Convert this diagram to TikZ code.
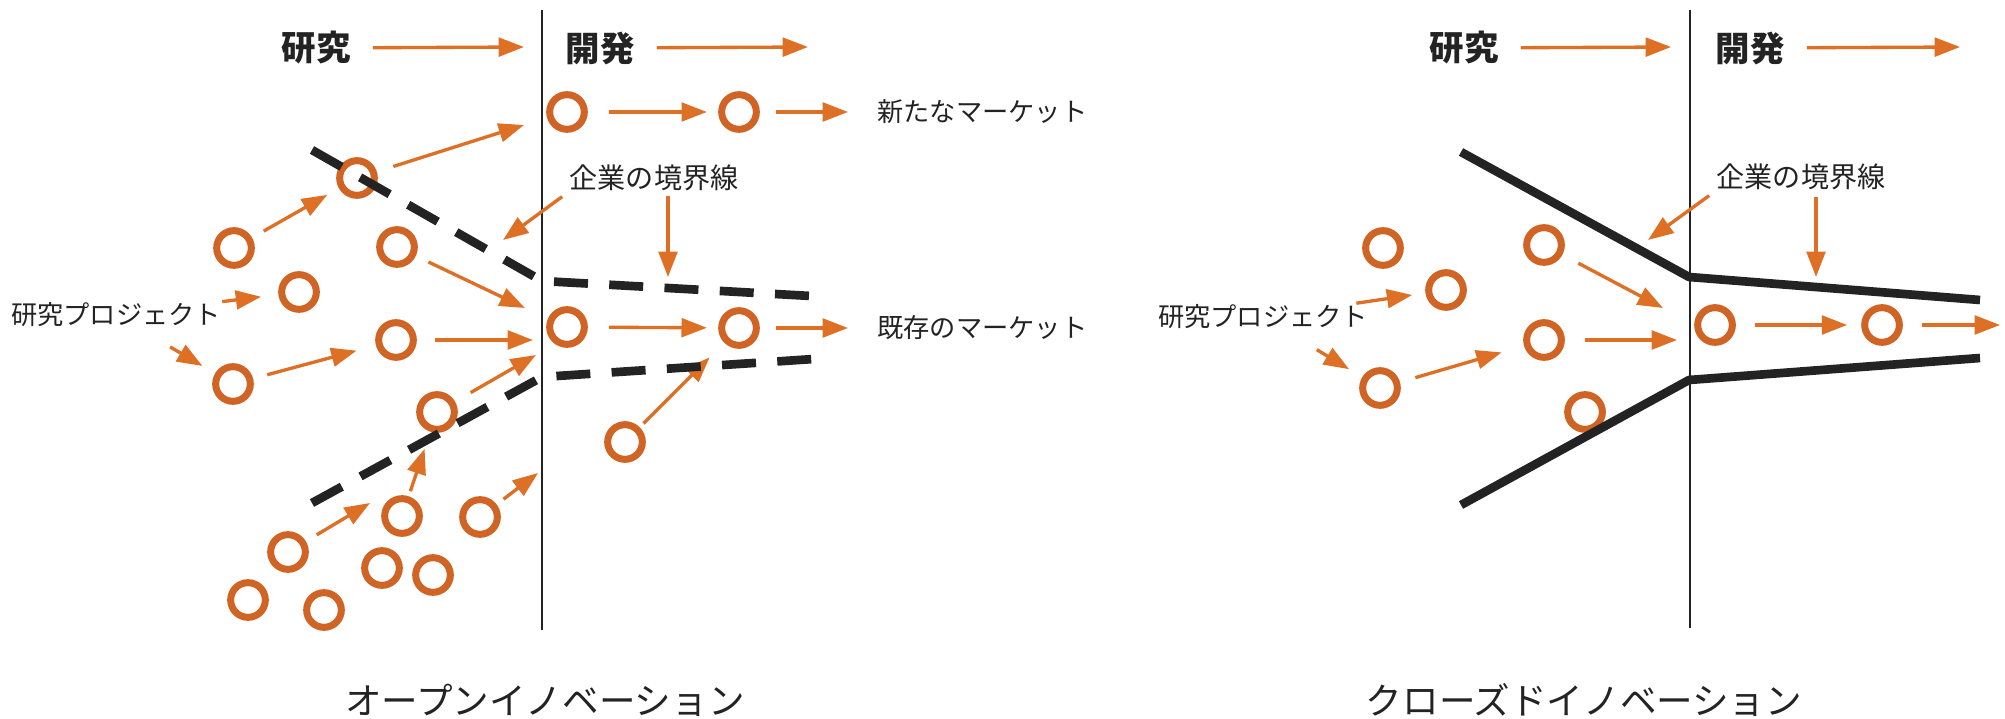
\documentclass[tikz,border=0pt]{standalone}
\usepackage{fontspec}
\newfontfamily\jp{Noto Sans CJK JP}
\usetikzlibrary{arrows.meta}
\definecolor{orng}{RGB}{222,112,38}
\definecolor{ringc}{RGB}{208,100,36}
\definecolor{ink}{RGB}{35,35,35}
\tikzset{
  ring/.style={circle, draw=ringc, line width=0.105cm, minimum size=0.52cm, inner sep=0pt},
  arr/.style={draw=orng, line width=0.05cm, -{Triangle[length=0.38cm,width=0.28cm]}},
  hdr/.style={font=\jp\bfseries\fontsize{14.7}{15}\selectfont, text=ink, inner sep=0pt},
  lbl/.style={font=\jp\fontsize{11.2}{12}\selectfont, text=ink, inner sep=0pt},
  klbl/.style={font=\jp\fontsize{12}{13}\selectfont, text=ink, inner sep=0pt},
  ttl/.style={font=\jp\fontsize{15.6}{16}\selectfont, text=ink, inner sep=0pt},
  divider/.style={draw=ink, line width=0.03cm},
  bound/.style={draw=ink, line width=0.13cm, dash pattern=on 0.51cm off 0.32cm},
  wall/.style={draw=ink, line width=0.13cm, line join=round},
}
\begin{document}
\begin{tikzpicture}[x=0.015cm, y=-0.015cm]
\useasboundingbox (0,0) rectangle (2005,719);

% ---------------- left: open innovation ----------------
\draw[divider] (542,10) -- (542,630);
\node[hdr] (lres) at (316,48) {研究};
\node[hdr] (ldev) at (600,48) {開発};
\coordinate (lresE) at (524,47);
\coordinate (ldevE) at (808,47);
\draw[arr, shorten <=0.33cm] (lres) -- (lresE);
\draw[arr, shorten <=0.33cm] (ldev) -- (ldevE);

\node[ring] (c1) at (567,112) {};
\node[ring] (c2) at (739,112) {};
\node[ring] (c3) at (357,178) {};
\node[ring] (c4) at (234,248) {};
\node[ring] (c5) at (299,292) {};
\node[ring] (c6) at (397,247) {};
\node[ring] (c7) at (233,384) {};
\node[ring] (c8) at (396,340) {};
\node[ring] (c9) at (567,327) {};
\node[ring] (c10) at (739,328) {};
\node[ring] (c11) at (437,412) {};
\node[ring] (c12) at (625,442) {};
\node[ring] (c13) at (402,516) {};
\node[ring] (c14) at (288,552) {};
\node[ring] (c15) at (480,517) {};
\node[ring] (c16) at (382,568) {};
\node[ring] (c17) at (433,575) {};
\node[ring] (c18) at (248,600) {};
\node[ring] (c19) at (324,610) {};

\draw[arr, shorten <=0.32cm, shorten >=0.17cm] (c1) -- (c2);
\coordinate (nm1) at (848,112);
\draw[arr, shorten <=0.24cm] (c2) -- (nm1);
\node[lbl, anchor=west] (newm) at (877,112) {新たなマーケット};
\draw[arr, shorten <=0.32cm, shorten >=0.17cm] (c9) -- (c10);
\coordinate (em1) at (848,328);
\draw[arr, shorten <=0.24cm] (c10) -- (em1);
\node[lbl, anchor=west] (exm) at (877,328) {既存のマーケット};

\node[lbl] (lproj) at (116,315) {研究プロジェクト};
\draw[arr, shorten <=0.09cm, shorten >=0.26cm] (lproj) -- (c5);
\draw[arr, shorten <=0.57cm, shorten >=0.22cm] (lproj) -- (c7);
\draw[arr, shorten <=0.2cm, shorten >=0.2cm] (c4) -- (c3);
\coordinate (c3e) at (524,125);
\draw[arr, shorten <=0.26cm] (c3) -- (c3e);
\coordinate (c6e) at (525,308);
\draw[arr, shorten <=0.21cm] (c6) -- (c6e);
\coordinate (c8e) at (533,340);
\draw[arr, shorten <=0.27cm] (c8) -- (c8e);
\draw[arr, shorten <=0.22cm, shorten >=0.3cm] (c7) -- (c8);
\coordinate (c11e) at (536,355);
\draw[arr, shorten <=0.27cm] (c11) -- (c11e);
\coordinate (c14e) at (370,503);
\draw[arr, shorten <=0.19cm] (c14) -- (c14e);
\draw[arr, shorten <=0.08cm, shorten >=0.27cm] (c13) -- (c11);
\coordinate (c15e) at (538,473);
\draw[arr, shorten <=0.13cm] (c15) -- (c15e);
\draw[arr, shorten <=0.08cm, shorten >=0.31cm] (c12) -- (c10);

\node[klbl] (lk) at (654,178) {企業の境界線};
\coordinate (lk1) at (503,240);
\draw[arr, shorten <=0.13cm] (lk.south west) -- (lk1);
\coordinate (lk2) at (668,277);
\draw[arr, shorten <=0.06cm] (lk2 |- lk.south) -- (lk2);

\draw[bound] (312,150) -- (542,281) -- (829,297);
\draw[bound] (312,503) -- (542,377) -- (829,358);

\node[ttl] (lt) at (545,700) {オープンイノベーション};

% ---------------- right: closed innovation ----------------
\draw[divider] (1690,10) -- (1690,628);
\node[hdr] (rres) at (1464,48) {研究};
\node[hdr] (rdev) at (1750,48) {開発};
\coordinate (rresE) at (1671,47);
\coordinate (rdevE) at (1960,47);
\draw[arr, shorten <=0.33cm] (rres) -- (rresE);
\draw[arr, shorten <=0.33cm] (rdev) -- (rdevE);

\node[ring] (r1) at (1383,248) {};
\node[ring] (r2) at (1446,290) {};
\node[ring] (r3) at (1544,245) {};
\node[ring] (r4) at (1544,340) {};
\node[ring] (r5) at (1380,388) {};
\node[ring] (r6) at (1585,412) {};
\node[ring] (r7) at (1715,325) {};
\node[ring] (r8) at (1882,325) {};

\node[lbl] (rproj) at (1263,317) {研究プロジェクト};
\draw[arr, shorten <=0.12cm, shorten >=0.2cm] (rproj) -- (r2);
\draw[arr, shorten <=0.58cm, shorten >=0.23cm] (rproj) -- (r5);
\draw[arr, shorten <=0.24cm, shorten >=0.35cm] (r5) -- (r4);
\coordinate (r3e) at (1663,308);
\draw[arr, shorten <=0.27cm] (r3) -- (r3e);
\coordinate (r4e) at (1677,340);
\draw[arr, shorten <=0.3cm] (r4) -- (r4e);
\draw[arr, shorten <=0.29cm, shorten >=0.21cm] (r7) -- (r8);
\coordinate (r8e) at (2000,325);
\draw[arr, shorten <=0.29cm] (r8) -- (r8e);

\node[klbl] (rk) at (1801,177) {企業の境界線};
\coordinate (rk1) at (1648,240);
\draw[arr, shorten <=0.13cm] (rk.south west) -- (rk1);
\coordinate (rk2) at (1816,277);
\draw[arr, shorten <=0.1cm] (rk2 |- rk.south) -- (rk2);

\draw[wall] (1461,152) -- (1689,277) -- (1980,300);
\draw[wall] (1461,505) -- (1689,380) -- (1980,358);

\node[ttl] (rt) at (1584,700) {クローズドイノベーション};
\end{tikzpicture}
\end{document}
